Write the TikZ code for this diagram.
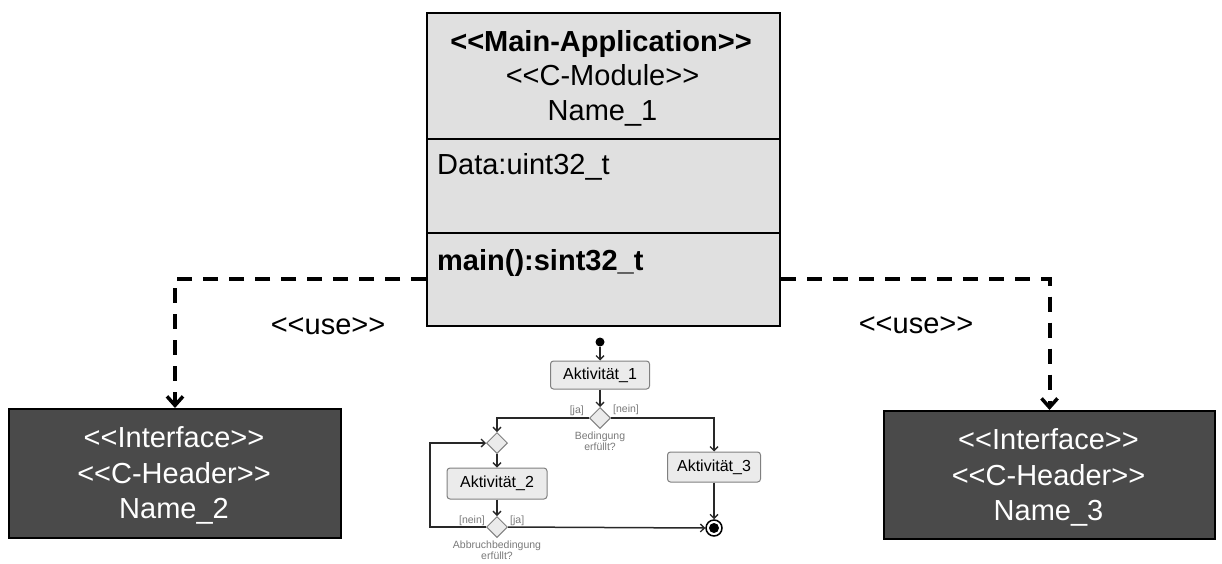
\documentclass[tikz,border=0pt]{standalone}
\usepackage{fontspec}
\setmainfont{Liberation Sans}
\usetikzlibrary{arrows.meta,shapes.geometric}
\definecolor{mainfill}{HTML}{E0E0E0}
\definecolor{darkfill}{HTML}{4A4A4A}
\definecolor{actfill}{HTML}{EBEBEB}
\definecolor{actline}{HTML}{808080}
\definecolor{flowline}{HTML}{282828}
\definecolor{lbl}{HTML}{7A7A7A}
\newcommand{\sopen}{<\kern0pt<}
\newcommand{\sclose}{>\kern0pt>}
\tikzset{
  bigtext/.style={font=\fontsize{29}{34}\selectfont, inner sep=0, anchor=base},
  classbox/.style={draw=black, line width=2, fill=mainfill, inner sep=0, anchor=north west},
  ifacebox/.style={draw=black, line width=2, fill=darkfill, inner sep=0, anchor=north west},
  usearrow/.style={line width=4, dash pattern=on 15 off 11, -{Straight Barb[length=9,width=16,line width=3.5]}},
  act/.style={draw=actline, fill=actfill, rounded corners=3, line width=1, inner sep=0,
              font=\fontsize{16}{19}\selectfont},
  decision/.style={diamond, draw=actline, fill=actfill, line width=1, inner sep=0,
                   minimum width=21, minimum height=21},
  flow/.style={draw=flowline, line width=1.5, -{Straight Barb[length=4,width=8,line width=1.3]}},
  guard/.style={font=\fontsize{10.5}{11}\selectfont, text=lbl, inner sep=0, align=center},
}
\begin{document}
\begin{tikzpicture}[x=1pt,y=-1pt]
\useasboundingbox (0,0) rectangle (1222,563);
\fill[white] (0,0) rectangle (1222,563);

% main class box
\node[classbox, minimum width=353, minimum height=313] (main) at (426,12) {};
\draw[line width=1.3] (426,139) -- (779,139);
\draw[line width=1.3] (426,233) -- (779,233);
\node[bigtext] (st1) at (601,51) {\bfseries \sopen Main-Application\sclose};
\node[bigtext] (st2) at (602.5,85) {\sopen C-Module\sclose};
\node[bigtext] (nm1) at (602.5,120) {Name\_1};
\node[bigtext, anchor=base west] (attr) at (437,174) {Data:uint32\_t};
\node[bigtext, anchor=base west] (op) at (437,270) {\bfseries main():sint32\_t};

% interface boxes
\node[ifacebox, minimum width=332, minimum height=129] (left) at (8,408) {};
\node[bigtext, text=white] (l1) at (174,447) {\sopen Interface\sclose};
\node[bigtext, text=white] (l2) at (174,483) {\sopen C-Header\sclose};
\node[bigtext, text=white] (l3) at (174,518) {Name\_2};

\node[ifacebox, minimum width=331, minimum height=128] (right) at (883,410) {};
\node[bigtext, text=white] (r1) at (1048.5,449) {\sopen Interface\sclose};
\node[bigtext, text=white] (r2) at (1048.5,485) {\sopen C-Header\sclose};
\node[bigtext, text=white] (r3) at (1048.5,520) {Name\_3};

% use dependencies
\draw[usearrow] (main.west |- 0,279) -| (left.north);
\draw[usearrow] (main.east |- 0,279) -| (right.north);
\node[bigtext] (use1) at (328,334) {\sopen use\sclose};
\node[bigtext] (use2) at (916,333) {\sopen use\sclose};

% activity diagram
\node[circle, fill=black, minimum size=9, inner sep=0] (init) at (600,342) {};
\node[act, minimum width=99, minimum height=28] (a1) at (600,375) {Aktivität\_1};
\node[decision] (d1) at (600,418) {};
\node[decision] (d2) at (497,443) {};
\node[act, minimum width=100, minimum height=31] (a2) at (497,483.5) {Aktivität\_2};
\node[decision] (d3) at (497,527) {};
\node[act, minimum width=93, minimum height=30] (a3) at (714,467) {Aktivität\_3};
\node[circle, draw=black, line width=1.5, fill=white, minimum size=16, inner sep=0] (fin) at (714,528) {};
\fill[black] (fin.center) circle (5);
\coordinate (loop) at (430,527);

\draw[flow] (init) -- (a1);
\draw[flow] (a1) -- (d1);
\draw[flow] (d1.west) -| (d2.north);
\draw[flow] (d1.east) -| (a3.north);
\draw[flow] (d2) -- (a2);
\draw[flow] (a2) -- (d3);
\draw[flow] (d3.west) -- (loop) |- (d2.west);
\draw[flow] (d3.east) -- (fin.west);
\draw[flow] (a3) -- (fin);

\node[guard, anchor=east] (g1) at (584,411) {[ja]};
\node[guard, anchor=west] (g2) at (613,410) {[nein]};
\node[guard, anchor=north] (c1) at (600,432) {Bedingung\\erfüllt?};
\node[guard, anchor=east] (g3) at (485,521) {[nein]};
\node[guard, anchor=west] (g4) at (510,521) {[ja]};
\node[guard, anchor=north] (c2) at (497,541) {Abbruchbedingung\\erfüllt?};
\end{tikzpicture}
\end{document}
